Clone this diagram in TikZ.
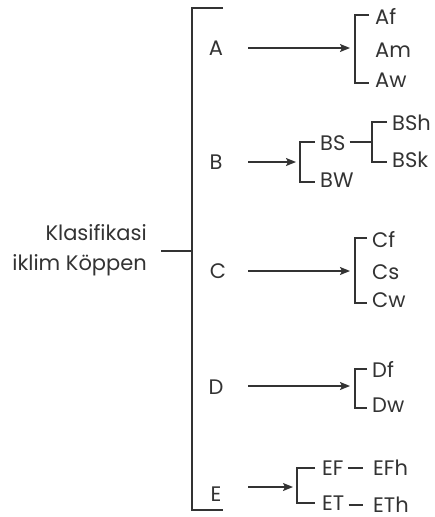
\documentclass[tikz,border=0pt]{standalone}
\usepackage{fontspec}
\setmainfont{Poppins}
\usetikzlibrary{arrows.meta}
\definecolor{ink}{HTML}{333333}
\begin{document}
\begin{tikzpicture}[x=1pt,y=-1pt,
  lbl/.style={font=\fontsize{21}{21}\selectfont, text=ink, inner sep=0pt, text height=14.7pt, text depth=0pt, anchor=west},
  ln/.style={draw=ink, line width=1.4pt},
  arr/.style={ln, -{Stealth[length=10pt,width=8pt,inset=2pt]}}]
\useasboundingbox (0,0) rectangle (435,517);
% root
\node[lbl, anchor=east] (r1) at (147,233) {Klasifikasi};
\node[lbl, anchor=east] (r2) at (147,263) {iklim Köppen};
\coordinate (stub) at (161,251);
\coordinate (mt) at (223,8);
\coordinate (mtl) at (192,8);
\coordinate (mbl) at (192,510);
\coordinate (mb) at (223,510);
\draw[ln] (mt) -- (mtl) -- (mbl) -- (mb);
\draw[ln] (stub) -- (stub -| mtl);
% level letters
\node[lbl, anchor=center] (A) at (216,48) {A};
\node[lbl, anchor=center] (B) at (216,162) {B};
\node[lbl, anchor=center] (C) at (218,271) {C};
\node[lbl, anchor=center] (D) at (216,387) {D};
\node[lbl, anchor=center] (E) at (216,494) {E};
% arrow starts and ends
\coordinate (A0) at (248,48);  \coordinate (A1) at (355,48);
\coordinate (B0) at (248,162); \coordinate (B1) at (300,162);
\coordinate (C0) at (248,271); \coordinate (C1) at (355,271);
\coordinate (D0) at (248,386); \coordinate (D1) at (355,386);
\coordinate (E0) at (248,487); \coordinate (E1) at (297,487);
\draw[arr, shorten >=5pt] (A0) -- (A1);
\draw[arr, shorten >=4pt] (B0) -- (B1);
\draw[arr, shorten >=5pt] (C0) -- (C1);
\draw[arr, shorten >=5pt] (D0) -- (D1);
\draw[arr, shorten >=4pt] (E0) -- (E1);
% A group
\node[lbl] (Af) at (375,17) {Af};
\node[lbl] (Am) at (375,50) {Am};
\node[lbl] (Aw) at (375,80) {Aw};
\draw[ln] ([shift={(-6,-2)}]Af.west) -| ([shift={(-20,3)}]Aw.west) -- ([shift={(-6,3)}]Aw.west);
% B group
\node[lbl] (BS) at (320,143) {BS};
\node[lbl] (BW) at (320,180) {BW};
\draw[ln] ([shift={(-5,-1)}]BS.west) -| ([shift={(-20,2)}]BW.west) -- ([shift={(-5,2)}]BW.west);
\node[lbl] (BSh) at (392,123) {BSh};
\node[lbl] (BSk) at (392,160) {BSk};
\draw[ln] ([shift={(-5,-1)}]BSh.west) -| ([shift={(-20,2)}]BSk.west) -- ([shift={(-5,2)}]BSk.west);
\coordinate (BSv) at (372,142);
\draw[ln] ([xshift=4pt]BS.east |- BSv) -- (BSv);
% C group
\node[lbl] (Cf) at (372,240) {Cf};
\node[lbl] (Cs) at (372,272) {Cs};
\node[lbl] (Cw) at (372,300) {Cw};
\draw[ln] ([shift={(-5,-2)}]Cf.west) -| ([shift={(-17,3)}]Cw.west) -- ([shift={(-5,3)}]Cw.west);
% D group
\node[lbl] (Df) at (372,370) {Df};
\node[lbl] (Dw) at (372,405) {Dw};
\draw[ln] ([shift={(-5,-1)}]Df.west) -| ([shift={(-17,3)}]Dw.west) -- ([shift={(-5,3)}]Dw.west);
% E group
\node[lbl] (EF) at (322,468) {EF};
\node[lbl] (ET) at (322,503) {ET};
\draw[ln] ([shift={(-7,0)}]EF.west) -| ([shift={(-25,0)}]ET.west) -- ([shift={(-7,0)}]ET.west);
\node[lbl] (EFh) at (373,468) {EFh};
\node[lbl] (ETh) at (373,505) {ETh};
\draw[ln] ([xshift=4pt]EF.east) -- ([xshift=-10pt]EFh.west |- EF.east);
\draw[ln] ([xshift=4pt]ET.east |- 0,505) -- ([xshift=-10pt]ETh.west |- 0,505);
\end{tikzpicture}
\end{document}
